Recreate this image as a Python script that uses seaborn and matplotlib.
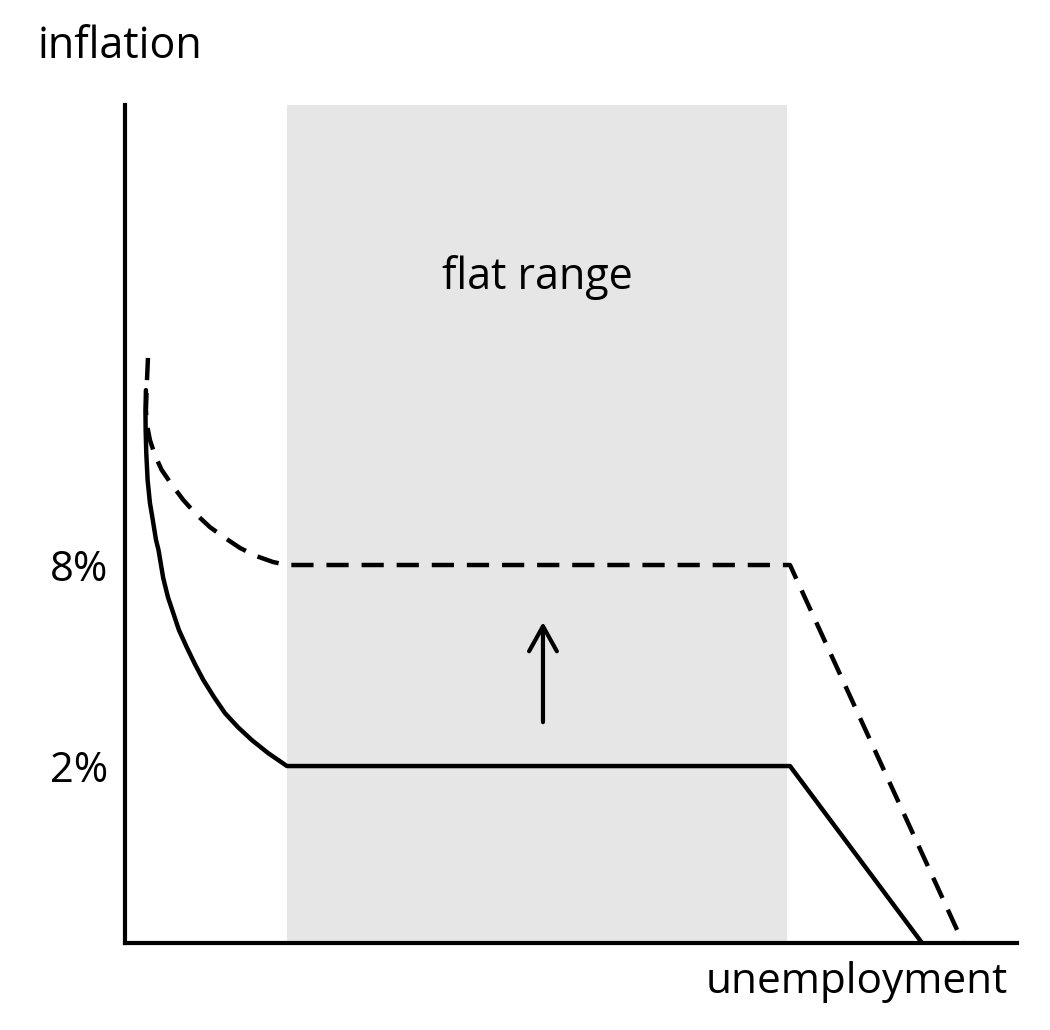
import matplotlib
matplotlib.use("Agg")
import matplotlib.pyplot as plt
import seaborn as sns

# solid curve (original Phillips curve)
solid_u = [0.235, 0.230, 0.232, 0.239, 0.254, 0.280, 0.303, 0.348, 0.376,
           0.429, 0.482, 0.541, 0.605, 0.692, 0.785, 0.878, 0.998, 1.121,
           1.267, 1.420, 1.603, 1.816, 7.455, 8.935]
solid_pi = [13.22, 12.54, 12.03, 11.34, 10.54, 9.85, 9.49, 8.75, 8.45,
            7.61, 7.04, 6.57, 6.06, 5.55, 5.04, 4.57, 4.06, 3.58,
            3.16, 2.78, 2.39, 2.0, 2.0, -3.28]

# dashed curve (shifted up)
dash_u = [0.258, 0.247, 0.235, 0.247, 0.280, 0.336, 0.411, 0.527, 0.654,
          0.796, 0.953, 1.121, 1.289, 1.469, 1.659, 1.816, 7.455, 9.395]
dash_pi = [14.18, 13.52, 12.63, 12.18, 11.73, 11.28, 10.84, 10.39, 9.94,
           9.52, 9.13, 8.81, 8.51, 8.27, 8.09, 8.0, 8.0, -3.28]

flat_lo, flat_hi = 1.816, 7.42
tick_vals = [2, 8]
tick_labels = ["2%", "8%"]
arrow_u = 4.686
arrow_from, arrow_to = 3.31, 6.30

sns.set_style("white")
plt.rcParams['font.family'] = ['Open Sans', 'DejaVu Sans']
plt.rcParams['text.color'] = 'black'
plt.rcParams['ytick.color'] = 'black'

fig = plt.figure(figsize=(10.5, 10.3), dpi=100)
ax = fig.add_axes([0.119, 0.0845, 0.8496, 0.8136])

ax.axvspan(flat_lo, flat_hi, color="#e6e6e6", lw=0, zorder=0)

sns.lineplot(x=solid_u, y=solid_pi, sort=False, estimator=None,
             color="black", linewidth=3.2, ax=ax)
sns.lineplot(x=dash_u, y=dash_pi, sort=False, estimator=None,
             color="black", linewidth=3.2, ax=ax)
for ln in ax.lines:
    ln.set_linewidth(3.2)
    ln.set_solid_joinstyle("round")
ax.lines[-1].set_dashes((5.0, 2.9))

ax.annotate("", xy=(arrow_u, arrow_to), xytext=(arrow_u, arrow_from),
            arrowprops=dict(arrowstyle="->,head_length=0.9,head_width=0.5",
                            mutation_scale=20, lw=3, color="black",
                            shrinkA=0, shrinkB=0))

ax.text((flat_lo + flat_hi) / 2, 16.57, "flat range", ha="center",
        va="center", fontsize=31)

ax.set_xlim(0, 10)
ax.set_ylim(-3.28, 21.73)
ax.set_xticks([])
ax.set_yticks(tick_vals)
ax.set_yticklabels(tick_labels, fontsize=30)
ax.tick_params(axis="y", length=0, pad=12)

for s in ["top", "right"]:
    ax.spines[s].set_visible(False)
for s in ["left", "bottom"]:
    ax.spines[s].set_linewidth(3)
    ax.spines[s].set_color("black")

fig.text(0.036, 0.9437, "inflation", fontsize=31, ha="left", va="baseline")
fig.text(0.96, 0.036, "unemployment", fontsize=30.5, ha="right", va="baseline")

fig.savefig("out.png", dpi=100)
